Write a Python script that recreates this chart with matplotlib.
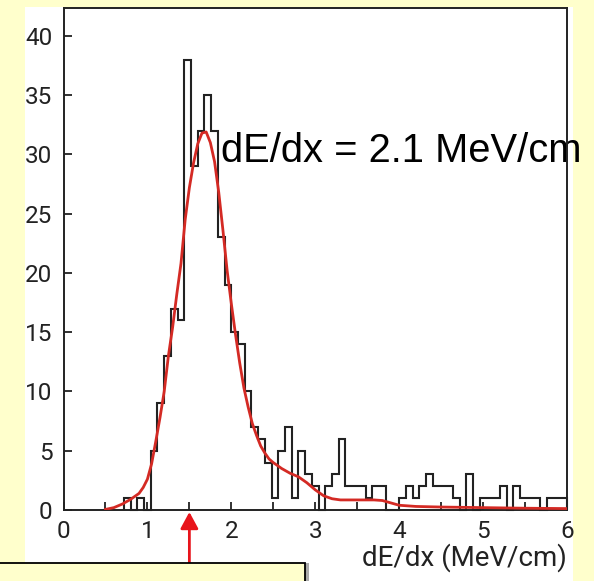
import numpy as np
import matplotlib
matplotlib.use("Agg")
import matplotlib.pyplot as plt
from matplotlib.patches import Rectangle
from matplotlib.ticker import MultipleLocator

# histogram of dE/dx, 0.08 MeV/cm bins starting at 0.72
bin_start = 0.72
bin_width = 0.08
counts = [1, 0, 1, 0, 5, 9, 13, 17, 16, 38,
          29, 32, 35, 32, 23, 19, 15, 14, 10, 7,
          6, 4, 1, 5, 7, 1, 5, 3, 2, 0,
          2, 3, 6, 2, 2, 2, 1, 2, 2, 0,
          0, 1, 2, 1, 2, 3, 2, 2, 2, 1,
          0, 3, 0, 1, 1, 1, 2, 0, 2, 1,
          1, 1, 0, 1, 1, 1]

# fitted curve
fit_x = [0.50, 0.60, 0.70, 0.80, 0.90, 0.95, 1.00, 1.05, 1.10, 1.15,
         1.20, 1.25, 1.30, 1.35, 1.40, 1.45, 1.50, 1.55, 1.60, 1.65,
         1.70, 1.75, 1.80, 1.85, 1.90, 1.95, 2.00, 2.05, 2.10, 2.15,
         2.20, 2.25, 2.30, 2.35, 2.40, 2.45, 2.50, 2.60, 2.70, 2.80,
         2.90, 3.00, 3.10, 3.20, 3.30, 3.50, 3.70, 3.80, 3.90, 4.00,
         4.20, 4.50, 5.00, 5.50, 6.00]
fit_y = [0.05, 0.2, 0.5, 0.9, 1.4, 1.9, 2.6, 3.9, 5.8, 7.8,
         10.0, 13.0, 15.4, 18.2, 20.8, 24.5, 27.2, 29.3, 30.9, 31.8,
         31.9, 31.0, 29.4, 26.8, 23.6, 20.2, 17.4, 14.8, 12.4, 10.3,
         8.7, 7.3, 6.3, 5.4, 4.8, 4.3, 4.0, 3.5, 3.1, 2.8,
         2.3, 1.7, 1.2, 0.95, 0.85, 0.85, 0.85, 0.8, 0.6, 0.4,
         0.3, 0.25, 0.2, 0.15, 0.12]

W, H = 594, 581
yellow = "#FFFFCC"
red = "#D42A24"

fig = plt.figure(figsize=(W / 100, H / 100), dpi=100, facecolor=yellow)

# white slide panel
fig.add_artist(Rectangle((25 / W, 0), (573 - 25) / W, (H - 7) / H,
                         transform=fig.transFigure, facecolor="white",
                         edgecolor="none", zorder=0))

ax = fig.add_axes([63.5 / W, 1 - 510 / H, (567 - 63.5) / W, (510 - 7.5) / H])
ax.set_facecolor("none")

edges = bin_start + bin_width * np.arange(len(counts) + 1)
ax.stairs(counts, edges, color="#222222", lw=1.5, clip_on=False, zorder=2)
ax.plot(fit_x, fit_y, color=red, lw=2.0, zorder=3)

ax.set_xlim(0, 6)
ax.set_ylim(0, 42.4)
ax.xaxis.set_major_locator(MultipleLocator(1))
ax.xaxis.set_minor_locator(MultipleLocator(0.5))
ax.yaxis.set_major_locator(MultipleLocator(5))
ax.tick_params(which="both", direction="in", length=6, width=1.3,
               colors="#222222", top=False, right=False)
ax.tick_params(axis="x", pad=7, labelsize=17.5)
ax.tick_params(axis="y", pad=8, labelsize=17.5)
for lab in ax.get_xticklabels() + ax.get_yticklabels():
    lab.set_family("Roboto")
    lab.set_color("#222222")
for s in ax.spines.values():
    s.set_linewidth(1.4)
    s.set_color("#222222")

ax.text(1.88, 29.4, "dE/dx = 2.1 MeV/cm", fontsize=28.7, family="Liberation Sans",
        va="baseline", ha="left", color="black", zorder=1)

fig.text(567 / W, 1 - 566 / H, "dE/dx (MeV/cm)", fontsize=20, family="Roboto",
         ha="right", va="baseline", color="#222222")

# yellow text box at bottom left with a small shadow
fig.add_artist(Rectangle((-5 / W, -10 / H), 314 / W, (H - 563 + 10) / H,
                         transform=fig.transFigure, facecolor="#AAAAAA",
                         edgecolor="none", zorder=4))
fig.add_artist(Rectangle((-5 / W, -10 / H), 310 / W, (H - 563 + 10) / H,
                         transform=fig.transFigure, facecolor=yellow,
                         edgecolor="black", lw=1.3, zorder=5))

# red arrow pointing at 1.5 MeV/cm
ax.annotate("", xy=(1.5, H - 512), xycoords=("data", "figure pixels"),
            xytext=(1.5, H - 563), textcoords=("data", "figure pixels"),
            arrowprops=dict(arrowstyle="-|>,head_length=0.5,head_width=0.27",
                            mutation_scale=20, color="#E8141B", lw=2,
                            shrinkA=0, shrinkB=0),
            annotation_clip=False, zorder=6)

fig.savefig("out.png", dpi=100, facecolor=yellow)
